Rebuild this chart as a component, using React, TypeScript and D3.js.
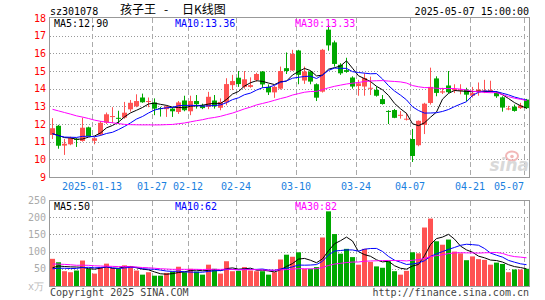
import React, { useEffect, useRef } from 'react';
import * as d3 from 'd3';

// trading days shown (2025)
const dates = [
  '01-02', '01-03', '01-06', '01-07', '01-08', '01-09', '01-10', '01-13', '01-14', '01-15',
  '01-16', '01-17', '01-20', '01-21', '01-22', '01-23', '01-24', '01-27', '02-05', '02-06',
  '02-07', '02-10', '02-11', '02-12', '02-13', '02-14', '02-17', '02-18', '02-19', '02-20',
  '02-21', '02-24', '02-25', '02-26', '02-27', '02-28', '03-03', '03-04', '03-05', '03-06',
  '03-07', '03-10', '03-11', '03-12', '03-13', '03-14', '03-17', '03-18', '03-19', '03-20',
  '03-21', '03-24', '03-25', '03-26', '03-27', '03-28', '03-31', '04-01', '04-02', '04-03',
  '04-07', '04-08', '04-09', '04-10', '04-11', '04-14', '04-15', '04-16', '04-17', '04-18',
  '04-21', '04-22', '04-23', '04-24', '04-25', '04-28', '04-29', '04-30', '05-06', '05-07',
];

const opens = [
  11.38, 11.9, 10.78, 10.85, 11.15, 11.04, 11.81, 11.05, 11.4, 12.07,
  12.4, 12.35, 12.36, 12.83, 13.0, 13.5, 13.25, 13.22, 12.9, 12.84,
  12.87, 12.68, 13.33, 12.72, 13.3, 13.06, 12.97, 13.33, 12.92, 13.22,
  14.2, 14.62, 14.1, 14.1, 14.49, 14.97, 14.1, 13.79, 14.0, 15.16,
  15.03, 16.16, 14.46, 14.97, 14.25, 13.83, 17.34, 16.62, 15.35, 15.05,
  14.63, 14.15, 14.12, 14.02, 13.93, 13.41, 12.74, 12.79, 12.48, 12.26,
  11.15, 10.8, 11.95, 13.19, 14.58, 13.78, 14.18, 13.9, 13.88, 13.95,
  13.6, 13.8, 13.8, 13.82, 13.76, 13.51, 12.85, 12.98, 12.9, 13.38,
];
const highs = [
  12.33, 11.95, 11.15, 11.28, 11.2, 12.36, 11.85, 11.25, 12.17, 12.65,
  12.95, 12.75, 13.25, 13.36, 13.68, 13.72, 13.5, 13.45, 12.97, 13.05,
  12.95, 13.3, 13.6, 13.6, 13.64, 13.15, 13.82, 13.64, 13.45, 14.59,
  14.78, 15.0, 15.0, 14.64, 14.9, 15.0, 14.24, 14.15, 15.25, 16.05,
  16.2, 16.2, 15.25, 15.0, 14.3, 16.25, 17.63, 16.72, 15.44, 15.75,
  14.7, 14.5, 14.87, 14.68, 14.12, 13.64, 12.78, 12.85, 12.73, 12.63,
  11.72, 12.2, 13.2, 15.19, 14.7, 14.05, 15.0, 14.25, 14.25, 14.05,
  14.1, 14.35, 14.5, 14.45, 13.85, 13.57, 13.03, 13.1, 13.2, 13.42,
];
const lows = [
  11.15, 10.6, 10.25, 10.8, 10.7, 11.0, 11.3, 10.85, 11.35, 12.0,
  12.05, 12.0, 12.3, 12.7, 12.95, 13.2, 12.95, 12.5, 12.42, 12.4,
  12.4, 12.57, 12.72, 12.5, 12.87, 12.84, 12.84, 12.87, 12.78, 13.06,
  13.92, 14.1, 14.0, 14.05, 14.4, 14.05, 13.64, 13.48, 13.95, 14.83,
  15.0, 14.25, 14.27, 14.25, 13.3, 13.78, 16.15, 15.25, 14.78, 14.9,
  14.0, 13.6, 13.6, 13.64, 13.55, 13.1, 12.0, 12.33, 12.3, 12.2,
  9.85, 10.74, 11.43, 13.1, 13.57, 13.7, 13.75, 13.75, 13.68, 13.28,
  13.5, 13.6, 13.75, 13.78, 13.48, 12.7, 12.78, 12.7, 12.85, 12.85,
];
const closes = [
  11.76, 10.77, 10.88, 11.2, 11.1, 11.79, 11.32, 11.19, 12.07, 12.55,
  12.45, 12.3, 12.64, 13.2, 13.3, 13.23, 13.3, 12.87, 12.87, 13.0,
  12.72, 13.22, 12.78, 13.3, 13.12, 12.9, 13.54, 13.0, 13.25, 14.26,
  14.43, 14.26, 14.53, 14.2, 14.83, 14.24, 13.79, 14.1, 15.0, 15.0,
  15.97, 14.78, 14.97, 14.4, 13.49, 16.2, 16.45, 15.4, 14.87, 14.95,
  14.12, 14.3, 14.6, 14.05, 13.6, 13.13, 12.71, 12.35, 12.52, 12.3,
  10.19, 12.18, 13.15, 14.1, 13.76, 13.85, 13.8, 13.98, 13.95, 13.66,
  13.75, 13.95, 13.9, 13.93, 13.57, 12.93, 12.88, 12.74, 13.05, 12.9,
];
// volume, 10k shares
const volumes = [
  79, 69, 43, 40, 45, 74, 50, 36, 54, 65,
  52, 50, 60, 57, 45, 33, 40, 30, 30, 38,
  42, 56, 40, 50, 42, 33, 62, 50, 36, 72,
  43, 44, 55, 45, 43, 43, 33, 40, 77, 91,
  85, 98, 50, 50, 55, 141, 217, 151, 94, 108,
  84, 62, 108, 70, 57, 53, 72, 43, 33, 44,
  98, 95, 170, 196, 130, 120, 135, 100, 95, 75,
  86, 78, 76, 62, 68, 64, 40, 48, 48, 50,
];

// the 29 sessions before 01-02 (not drawn), estimated from where the MA lines start
const prevCloses = [
  13.45, 13.62, 13.9, 14.05, 13.88, 13.72, 13.95, 14.1, 13.85, 13.6,
  13.78, 13.92, 13.65, 13.55, 13.38, 13.25, 13.0, 12.78, 12.6, 12.39,
  11.95, 11.6, 11.3, 11.2, 11.2, 11.25, 11.5, 11.3, 11.44,
];
const prevVolumes = [
  82, 65, 74, 90, 68, 60, 77, 71, 85, 64,
  70, 58, 66, 79, 73, 62, 69, 75, 61, 71,
  52, 44, 49, 41, 49, 43, 51, 45, 47,
];

const tickDates = ['01-13', '01-27', '02-12', '02-24', '03-10', '03-24', '04-07', '04-21', '05-07'];
const tickLabels = ['2025-01-13', '01-27', '02-12', '02-24', '03-10', '03-24', '04-07', '04-21', '05-07'];
const priceTicks = [9, 10, 11, 12, 13, 14, 15, 16, 17, 18];
const volumeTicks = [50, 100, 150, 200, 250];

const RED = '#ff5252';
const GREEN = '#00a800';
const MONO = '"DejaVu Sans Mono", monospace';
const CJK = '"Noto Sans CJK SC", sans-serif';

const movingAverage = (prev: number[], values: number[], n: number) => {
  const all = prev.concat(values);
  return values.map((_, i) => {
    const end = prev.length + i + 1;
    return d3.mean(all.slice(end - n, end)) as number;
  });
};

const App: React.FC = () => {
  const svgRef = useRef<SVGSVGElement | null>(null);

  useEffect(() => {
    d3.select(svgRef.current).selectAll('*').remove();
    const svg = d3.select(svgRef.current);
    const width = 545;
    const height = 300;
    svg.attr('viewBox', `0 0 ${width} ${height}`);

    svg.append('rect').attr('width', width).attr('height', height).attr('fill', '#fff');

    const x = d3.scaleBand<string>().domain(dates).range([50, 530]);
    const y = d3.scaleLinear().domain([9, 18]).range([177, 18]);
    const yv = d3.scaleLinear().domain([0, 250]).range([286, 200]);
    const cx = (i: number) => (x(dates[i]) as number) + 2.5;
    const px = (v: number) => Math.round(v) + 0.5;

    // ---- header
    svg.append('text').attr('x', 50).attr('y', 15).attr('font-family', MONO).attr('font-size', 10)
      .attr('fill', '#000').text('sz301078');
    const title = svg.append('text').attr('y', 14).attr('font-family', CJK).attr('font-size', 12).attr('fill', '#000');
    title.append('tspan').attr('x', 120).text('孩子王');
    title.append('tspan').attr('x', 164).text('-');
    title.append('tspan').attr('x', 182).text('日K线图');
    svg.append('text').attr('x', 529).attr('y', 15).attr('text-anchor', 'end').attr('font-family', MONO)
      .attr('font-size', 10).attr('fill', '#000').text('2025-05-07 15:00:00');

    // ---- grids
    const gridLayer = svg.append('g');
    priceTicks.filter(t => t > 9 && t < 18).forEach(t => {
      gridLayer.append('line').attr('x1', 50).attr('x2', 529).attr('y1', px(y(t))).attr('y2', px(y(t)))
        .attr('stroke', '#999').attr('stroke-dasharray', '1,2');
    });
    volumeTicks.filter(t => t < 250).forEach(t => {
      gridLayer.append('line').attr('x1', 50).attr('x2', 529).attr('y1', px(yv(t))).attr('y2', px(yv(t)))
        .attr('stroke', '#999').attr('stroke-dasharray', '1,2');
    });
    tickDates.forEach(d => {
      const gx = px(x(d) as number);
      gridLayer.append('line').attr('x1', gx).attr('x2', gx).attr('y1', 18).attr('y2', 177)
        .attr('stroke', '#aaa').attr('stroke-dasharray', '5,3');
      gridLayer.append('line').attr('x1', gx).attr('x2', gx).attr('y1', 201).attr('y2', 286)
        .attr('stroke', '#aaa').attr('stroke-dasharray', '5,3');
    });

    // ---- sina watermark
    const wm = svg.append('g');
    wm.append('ellipse').attr('cx', 512).attr('cy', 156).attr('rx', 6).attr('ry', 4.5)
      .attr('fill', 'none').attr('stroke', '#f2b8b8').attr('stroke-width', 2);
    wm.append('circle').attr('cx', 512).attr('cy', 156.5).attr('r', 1.8).attr('fill', '#f2b8b8');
    wm.append('text').attr('x', 529).attr('y', 171).attr('text-anchor', 'end')
      .attr('font-family', '"DejaVu Sans", sans-serif').attr('font-style', 'italic').attr('font-weight', 'bold')
      .attr('font-size', 17).attr('fill', '#d9d9d9').text('sina');

    // ---- candles + volume bars
    const candles = svg.append('g');
    dates.forEach((d, i) => {
      const o = opens[i];
      const c = closes[i];
      const color = c >= o ? RED : GREEN;
      candles.append('line').attr('x1', cx(i)).attr('x2', cx(i)).attr('y1', y(highs[i])).attr('y2', y(lows[i]))
        .attr('stroke', color);
      const top = y(Math.max(o, c));
      const h = Math.max(1, Math.abs(y(o) - y(c)));
      candles.append('rect').attr('x', x(d) as number).attr('width', 5).attr('y', top).attr('height', h)
        .attr('fill', color);
      candles.append('rect').attr('x', x(d) as number).attr('width', 5).attr('y', yv(volumes[i]))
        .attr('height', 286 - yv(volumes[i])).attr('fill', color);
    });

    // ---- moving averages
    const maColors = ['#000000', '#0000ff', '#ff00ff'];
    const periods = [5, 10, 30];
    const line = (scale: d3.ScaleLinear<number, number>) =>
      d3.line<number>().x((_, i) => cx(i)).y(v => scale(v));
    const priceMA = periods.map(n => movingAverage(prevCloses, closes, n));
    const volMA = periods.map(n => movingAverage(prevVolumes, volumes, n));
    periods.forEach((_, k) => {
      svg.append('path').attr('d', line(y)(priceMA[k])).attr('fill', 'none').attr('stroke', maColors[k]);
      svg.append('path').attr('d', line(yv)(volMA[k])).attr('fill', 'none').attr('stroke', maColors[k]);
    });

    // ---- borders
    svg.append('rect').attr('x', 49.5).attr('y', 17.5).attr('width', 480).attr('height', 160)
      .attr('fill', 'none').attr('stroke', '#999');
    svg.append('rect').attr('x', 49.5).attr('y', 200.5).attr('width', 480).attr('height', 86)
      .attr('fill', 'none').attr('stroke', '#999');

    // ---- MA legends
    const legendX = [54, 175, 295];
    const last = dates.length - 1;
    periods.forEach((n, k) => {
      svg.append('text').attr('x', legendX[k]).attr('y', 27).attr('font-family', MONO).attr('font-size', 10)
        .attr('fill', maColors[k]).text(`MA${n}:${priceMA[k][last].toFixed(2)}`);
      svg.append('text').attr('x', legendX[k]).attr('y', 209.5).attr('font-family', MONO).attr('font-size', 10)
        .attr('fill', maColors[k]).text(`MA${n}:${Math.round(volMA[k][last])}`);
    });

    // ---- axes labels
    priceTicks.forEach(t => {
      svg.append('text').attr('x', 46).attr('y', y(t) + 3.5).attr('text-anchor', 'end').attr('font-family', MONO)
        .attr('font-size', 10).attr('fill', '#ff0000').text(t);
    });
    volumeTicks.forEach(t => {
      svg.append('text').attr('x', 46).attr('y', yv(t) + 3.5).attr('text-anchor', 'end').attr('font-family', MONO)
        .attr('font-size', 10).attr('fill', '#aaa').text(t);
    });
    svg.append('text').attr('x', 28).attr('y', 290).attr('font-family', MONO).attr('font-size', 10)
      .attr('fill', '#bbb').text('x万');
    tickDates.forEach((d, k) => {
      const w = tickLabels[k].length * 6;
      const center = Math.min(x(d) as number, 524 - w / 2);
      svg.append('text').attr('x', center).attr('y', 190).attr('text-anchor', 'middle').attr('font-family', MONO)
        .attr('font-size', 10).attr('fill', '#1a80e0').text(tickLabels[k]);
    });

    // ---- footer
    svg.append('text').attr('x', 50).attr('y', 296).attr('font-family', MONO).attr('font-size', 10)
      .attr('fill', '#444').text('Copyright 2025 SINA.COM');
    svg.append('text').attr('x', 529).attr('y', 296).attr('text-anchor', 'end').attr('font-family', MONO)
      .attr('font-size', 10).attr('fill', '#444').text('http://finance.sina.com.cn');
  }, []);

  return (
    <svg
      ref={svgRef}
      width={545}
      height={300}
      style={{ position: 'absolute', left: 0, top: 0, display: 'block' }}
    />
  );
};

export default App;
